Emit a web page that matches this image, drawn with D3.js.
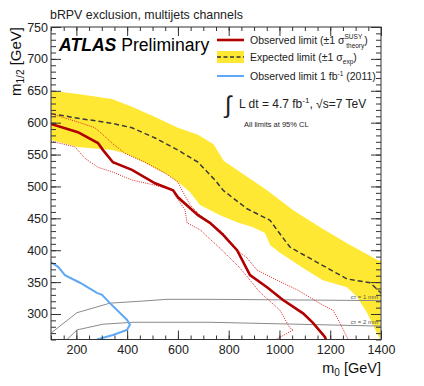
<!DOCTYPE html>
<html>
<head>
<meta charset="utf-8">
<script src="https://cdn.jsdelivr.net/npm/d3@7"></script>
<style>
  body { margin: 0; background: #fff; }
  text { font-family: "Liberation Sans", Arial, Helvetica, sans-serif; }
</style>
</head>
<body>
<div id="chart"></div>
<script>
// m0 / m1/2 pairs (GeV)
var expBandUpper = [[100,650],[206,645],[340,637],[419,625],[510,609],[600,592],[679,581],[740,566],[781,540],[951,494],[1053,463],[1160,436],[1266,411],[1384,385],[1400,383]];
var expBandLower = [[100,573],[206,562],[340,557],[391,552],[470,537],[521,526],[561,518],[616,502],[648,491],[687,471],[766,455],[833,444],[896,436],[943,427],[963,408],[1002,396],[1093,372],[1171,353],[1266,342],[1305,327],[1345,302],[1384,270],[1396,260]];
var expected = [[100,614],[206,607],[340,599],[419,592],[510,576],[600,557],[679,538],[746,510],[778,494],[872,465],[963,447],[990,432],[1041,405],[1148,381],[1266,355],[1357,349],[1400,333]];
var observed = [[100,598],[206,585],[285,568],[305,557],[344,538],[419,526],[510,505],[581,494],[600,483],[679,455],[726,443],[778,424],[833,400],[884,361],[951,342],[1014,322],[1093,301],[1132,286],[1179,264],[1183,260]];
var obsUp = [[100,614],[206,601],[273,592],[305,581],[340,568],[391,552],[470,538],[549,521],[600,507],[616,494],[648,471],[687,455],[738,440],[778,427],[833,400],[872,388],[911,369],[990,353],[1069,338],[1171,314],[1211,306],[1238,286],[1266,264],[1270,260]];
var obsDown = [[100,571],[195,562],[206,557],[234,544],[285,530],[340,523],[419,510],[510,502],[581,494],[596,482],[628,463],[636,443],[687,432],[766,403],[845,372],[884,353],[923,334],[1002,306],[1041,278],[1054,275],[986,260]];
var obs2011 = [[100,381],[128,374],[155,361],[214,349],[281,333],[301,330],[332,317],[399,291],[411,283],[399,275],[344,267],[281,260]];
var ctau1mm = [[100,270],[202,302],[332,317],[451,320],[557,323],[726,323],[1400,321]];
var ctau2mm = [[163,260],[202,275],[305,284],[423,287],[726,287],[1400,281]];

var xMajor = [200, 400, 600, 800, 1000, 1200, 1400];
var yMajor = [300, 350, 400, 450, 500, 550, 600, 650, 700, 750];

function drawChart() {
    var width = 424, height = 386;
    var pLeft = 51, pRight = 381, pTop = 27, pBottom = 339.5;

    var x = d3.scaleLinear().domain([100, 1400]).range([pLeft, pRight]);
    var y = d3.scaleLinear().domain([260, 750]).range([pBottom, pTop]);

    var svg = d3.select("#chart").append("svg")
        .attr("width", width)
        .attr("height", height);

    svg.append("defs").append("clipPath").attr("id", "clip")
        .append("rect")
        .attr("x", pLeft).attr("y", pTop)
        .attr("width", pRight - pLeft).attr("height", pBottom - pTop);

    var plot = svg.append("g").attr("clip-path", "url(#clip)");

    var line = d3.line()
        .x(function (d) { return x(d[0]); })
        .y(function (d) { return y(d[1]); });

    // yellow band: upper edge then lower edge reversed
    var band = expBandUpper.concat(expBandLower.slice().reverse());
    plot.append("path")
        .attr("d", line(band) + "Z")
        .attr("fill", "#ffe833")
        .attr("stroke", "none");

    plot.append("path").attr("d", line(ctau1mm))
        .attr("fill", "none").attr("stroke", "#8a8a8a").attr("stroke-width", 1);
    plot.append("path").attr("d", line(ctau2mm))
        .attr("fill", "none").attr("stroke", "#8a8a8a").attr("stroke-width", 1);

    plot.append("path").attr("d", line(expected))
        .attr("fill", "none").attr("stroke", "#3a3a3a")
        .attr("stroke-width", 1.5).attr("stroke-dasharray", "5,3");

    plot.append("path").attr("d", line(obsUp))
        .attr("fill", "none").attr("stroke", "#d22").attr("stroke-width", 1)
        .attr("stroke-dasharray", "1,1.2");
    plot.append("path").attr("d", line(obsDown))
        .attr("fill", "none").attr("stroke", "#d22").attr("stroke-width", 1)
        .attr("stroke-dasharray", "1,1.2");
    plot.append("path").attr("d", line(observed))
        .attr("fill", "none").attr("stroke", "#b00000").attr("stroke-width", 2.6);

    plot.append("path").attr("d", line(obs2011))
        .attr("fill", "none").attr("stroke", "#5fa8f5").attr("stroke-width", 2);

    // c tau labels
    svg.append("text").attr("x", 378).attr("y", y(324)).attr("text-anchor", "end")
        .attr("font-size", 6).attr("fill", "#555").text("cτ = 1 mm");
    svg.append("text").attr("x", 378).attr("y", y(285)).attr("text-anchor", "end")
        .attr("font-size", 6).attr("fill", "#555").text("cτ = 2 mm");

    // axes: ROOT style, ticks inside on all four sides
    var xMinor = d3.range(100, 1401, 50);
    var yMinor = d3.range(260, 751, 10);

    function styleAxis(g) {
        g.select(".domain").remove();
        g.selectAll("line").attr("stroke", "#333");
        g.selectAll("text").attr("font-size", 12.5).attr("fill", "#222");
    }

    svg.append("g").attr("transform", "translate(0," + pBottom + ")")
        .call(d3.axisBottom(x).tickValues(xMinor).tickSize(-4).tickFormat(""))
        .call(styleAxis);
    svg.append("g").attr("transform", "translate(0," + pBottom + ")")
        .call(d3.axisBottom(x).tickValues(xMajor).tickSize(-9).tickPadding(6).tickFormat(d3.format("d")))
        .call(styleAxis);
    svg.append("g").attr("transform", "translate(0," + pTop + ")")
        .call(d3.axisTop(x).tickValues(xMinor).tickSize(-4).tickFormat(""))
        .call(styleAxis);
    svg.append("g").attr("transform", "translate(0," + pTop + ")")
        .call(d3.axisTop(x).tickValues(xMajor).tickSize(-9).tickFormat(""))
        .call(styleAxis);

    svg.append("g").attr("transform", "translate(" + pLeft + ",0)")
        .call(d3.axisLeft(y).tickValues(yMinor).tickSize(-5).tickFormat(""))
        .call(styleAxis);
    svg.append("g").attr("transform", "translate(" + pLeft + ",0)")
        .call(d3.axisLeft(y).tickValues(yMajor).tickSize(-10).tickPadding(3).tickFormat(d3.format("d")))
        .call(styleAxis);
    svg.append("g").attr("transform", "translate(" + pRight + ",0)")
        .call(d3.axisRight(y).tickValues(yMinor).tickSize(-5).tickFormat(""))
        .call(styleAxis);
    svg.append("g").attr("transform", "translate(" + pRight + ",0)")
        .call(d3.axisRight(y).tickValues(yMajor).tickSize(-10).tickFormat(""))
        .call(styleAxis);

    svg.append("rect")
        .attr("x", pLeft).attr("y", pTop)
        .attr("width", pRight - pLeft).attr("height", pBottom - pTop)
        .attr("fill", "none").attr("stroke", "#333").attr("stroke-width", 1);

    // axis titles
    var xt = svg.append("text").attr("x", pRight).attr("y", 373)
        .attr("text-anchor", "end").attr("font-size", 14.5).attr("fill", "#111");
    xt.append("tspan").text("m");
    xt.append("tspan").attr("font-size", 10).attr("dy", 3).text("0");
    xt.append("tspan").attr("dy", -3).text(" [GeV]");

    var yt = svg.append("text")
        .attr("transform", "translate(21," + pTop + ") rotate(-90)")
        .attr("text-anchor", "end").attr("font-size", 15).attr("fill", "#111");
    yt.append("tspan").text("m");
    yt.append("tspan").attr("font-size", 10).attr("dy", 3).text("1/2");
    yt.append("tspan").attr("dy", -3).text(" [GeV]");

    svg.append("text").attr("x", 50).attr("y", 19)
        .attr("font-size", 12.4).attr("fill", "#222")
        .text("bRPV exclusion, multijets channels");

    var atlas = svg.append("text").attr("x", 59).attr("y", 51).attr("font-size", 17.6);
    atlas.append("tspan").attr("font-weight", "bold").attr("font-style", "italic").text("ATLAS");
    atlas.append("tspan").text(" Preliminary");

    // legend
    var lx0 = 217, lx1 = 244, tx = 250;
    svg.append("line").attr("x1", lx0).attr("x2", lx1).attr("y1", 40).attr("y2", 40)
        .attr("stroke", "#b00000").attr("stroke-width", 2.6);
    svg.append("rect").attr("x", lx0).attr("y", 51).attr("width", lx1 - lx0).attr("height", 12)
        .attr("fill", "#ffe833");
    svg.append("line").attr("x1", lx0).attr("x2", lx1).attr("y1", 57).attr("y2", 57)
        .attr("stroke", "#333").attr("stroke-width", 1.5).attr("stroke-dasharray", "4,2.5");
    svg.append("line").attr("x1", lx0).attr("x2", lx1).attr("y1", 76).attr("y2", 76)
        .attr("stroke", "#5fa8f5").attr("stroke-width", 2);

    var fs = 10.5;
    var l1 = svg.append("text").attr("x", tx).attr("y", 44).attr("font-size", fs).attr("fill", "#222");
    l1.append("tspan").text("Observed limit (±1 σ");
    l1.append("tspan").attr("font-size", 6.5).attr("dy", -5).text("SUSY");
    l1.append("tspan").attr("font-size", 6.5).attr("dx", -16).attr("dy", 8.5).text("theory");
    l1.append("tspan").attr("dy", -3.5).text(")");

    var l2 = svg.append("text").attr("x", tx).attr("y", 61).attr("font-size", fs).attr("fill", "#222");
    l2.append("tspan").text("Expected limit (±1 σ");
    l2.append("tspan").attr("font-size", 6.5).attr("dy", 3).text("exp");
    l2.append("tspan").attr("dy", -3).text(")");

    var l3 = svg.append("text").attr("x", tx).attr("y", 80).attr("font-size", fs).attr("fill", "#222");
    l3.append("tspan").text("Observed limit 1 fb");
    l3.append("tspan").attr("font-size", 6.5).attr("dy", -4).text("-1");
    l3.append("tspan").attr("dy", 4).text(" (2011)");

    svg.append("text").attr("x", 225).attr("y", 113).attr("font-size", 24)
        .attr("fill", "#222").text("∫");
    var lum = svg.append("text").attr("x", 239).attr("y", 108).attr("font-size", 12).attr("fill", "#222");
    lum.append("tspan").text("L dt = 4.7 fb");
    lum.append("tspan").attr("font-size", 8).attr("dy", -5).text("-1");
    lum.append("tspan").attr("dy", 5).text(", √s=7 TeV");

    svg.append("text").attr("x", 244).attr("y", 127).attr("font-size", 7.5).attr("fill", "#222")
        .text("All limits at 95% CL");
}

drawChart();
</script>
</body>
</html>
